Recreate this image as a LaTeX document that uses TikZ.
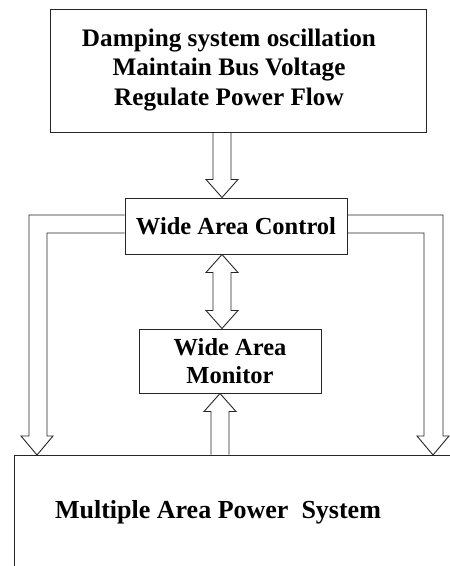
\documentclass[tikz,border=0pt]{standalone}
\usepackage{fontspec}
\setmainfont{Liberation Serif}
\usetikzlibrary{calc}
\begin{document}
\begin{tikzpicture}[x=1pt,y=-1pt,
  box/.style={draw=black!85, line width=1pt, rectangle, inner sep=0pt},
  txt/.style={font=\fontsize{24.5}{28.5}\selectfont\bfseries, align=center, inner sep=0pt},
  blk/.style={draw=black!85, line width=0.9pt, line join=miter},
  hollow/.style={to path={
    ($(\tikztostart)!9pt!90:(\tikztotarget)$) --
    ($($(\tikztotarget)!18pt!(\tikztostart)$)!9pt!-90:(\tikztostart)$) --
    ($($(\tikztotarget)!18pt!(\tikztostart)$)!16pt!-90:(\tikztostart)$) --
    (\tikztotarget) --
    ($($(\tikztotarget)!18pt!(\tikztostart)$)!16pt!90:(\tikztostart)$) --
    ($($(\tikztotarget)!18pt!(\tikztostart)$)!9pt!90:(\tikztostart)$) --
    ($(\tikztostart)!9pt!-90:(\tikztotarget)$)}},
  hollowtwo/.style={to path={
    ($($(\tikztostart)!18pt!(\tikztotarget)$)!9pt!90:(\tikztotarget)$) --
    ($($(\tikztotarget)!18pt!(\tikztostart)$)!9pt!-90:(\tikztostart)$) --
    ($($(\tikztotarget)!18pt!(\tikztostart)$)!16pt!-90:(\tikztostart)$) --
    (\tikztotarget) --
    ($($(\tikztotarget)!18pt!(\tikztostart)$)!16pt!90:(\tikztostart)$) --
    ($($(\tikztotarget)!18pt!(\tikztostart)$)!9pt!90:(\tikztostart)$) --
    ($($(\tikztostart)!18pt!(\tikztotarget)$)!9pt!-90:(\tikztotarget)$) --
    ($($(\tikztostart)!18pt!(\tikztotarget)$)!16pt!-90:(\tikztotarget)$) --
    (\tikztostart) --
    ($($(\tikztostart)!18pt!(\tikztotarget)$)!16pt!90:(\tikztotarget)$) -- cycle}}
]
\useasboundingbox (0,0) rectangle (450,566);
\fill[white] (0,0) rectangle (450,566);

% boxes
\node[box, minimum width=376pt, minimum height=123pt] (top) at (238,70.5) {};
\node[txt, font=\fontsize{25.2}{29.5}\selectfont\bfseries] (toptext) at (229,70) {Damping system oscillation\\Maintain Bus Voltage\\Regulate Power Flow};
\node[box, txt, minimum width=222pt, minimum height=56pt] (wac) at (236,226) {Wide Area Control};
\node[box, txt, minimum width=182pt, minimum height=64pt] (wam) at (230,361) {Wide Area\\Monitor};
\node[box, minimum width=460pt, minimum height=150pt] (maps) at (244,530) {};
\node[txt, font=\fontsize{26}{30}\selectfont\bfseries] (mapstext) at (218,512) {Multiple Area Power\ \ System};

% top box -> WAC
\coordinate (a1s) at ($(top.south)+(-16,0)$);
\coordinate (a1t) at ($(wac.north)+(-14,0)$);
\draw[blk] (a1s) to[hollow] (a1t);

% WAC <-> WAM
\coordinate (a2s) at ($(wac.south)+(-14,0)$);
\coordinate (a2t) at ($(wam.north)+(-8,0)$);
\draw[blk] (a2s) to[hollowtwo] (a2t);

% MAPS -> WAM
\coordinate (a3s) at ($(maps.north)+(-24,0)$);
\coordinate (a3t) at ($(wam.south)+(-10,0)$);
\draw[blk] (a3s) to[hollow] (a3t);

% WAC -> MAPS feedback loops
\coordinate (wl1) at ($(wac.west)+(0,-11)$);
\coordinate (wl2) at ($(wac.west)+(0,7)$);
\coordinate (wr1) at ($(wac.east)+(0,-11)$);
\coordinate (wr2) at ($(wac.east)+(0,7)$);
\coordinate (ltip) at (37,455);
\coordinate (rtip) at (433,455);
\draw[blk] (wl1) -| (29,436) -- (21,436) -- (ltip) -- (53,436) -- (47,436) |- (wl2);
\draw[blk] (wr1) -| (443,436) -- (449,436) -- (rtip) -- (417,436) -- (424,436) |- (wr2);
\end{tikzpicture}
\end{document}
